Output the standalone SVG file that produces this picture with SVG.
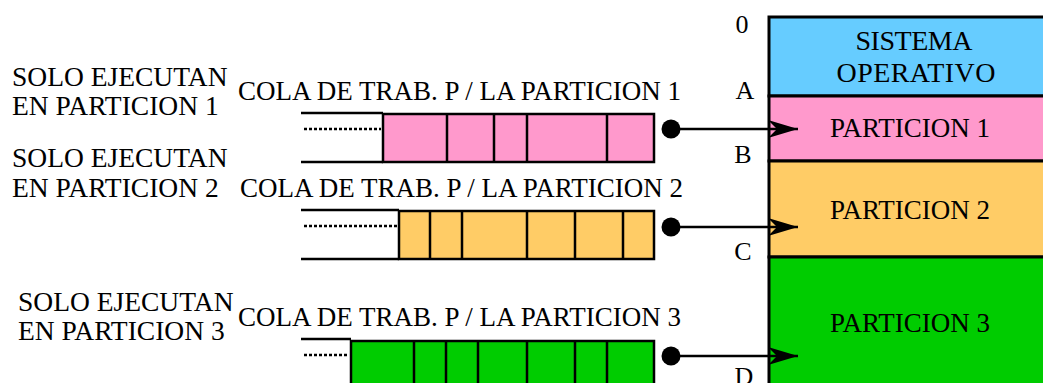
<svg xmlns="http://www.w3.org/2000/svg" width="1043" height="383" viewBox="0 0 1043 383">
<style>
  text { font-family: "Liberation Serif", "Times New Roman", serif; fill: #000; }
  .t { font-size: 27px; }
  .side { font-size: 27.5px; }
  .so { font-size: 28px; }
  .lbl { font-size: 26px; text-anchor: middle; }
  .mid { text-anchor: middle; }
  .blk { stroke: #000; stroke-width: 3; }
  .qr { stroke: #000; stroke-width: 2.5; }
  .ln { stroke: #000; stroke-width: 2.5; fill: none; }
  .dot { stroke: #000; stroke-width: 2.5; stroke-dasharray: 3 2; fill: none; }
  .conn { stroke: #000; stroke-width: 2.5; fill: none; }
</style>
<defs>
  <marker id="dotStart" markerUnits="userSpaceOnUse" markerWidth="20" markerHeight="20" refX="10" refY="10" orient="auto">
    <circle cx="10" cy="10" r="9.5" fill="#000"/>
  </marker>
  <marker id="arrowEnd" markerUnits="userSpaceOnUse" markerWidth="32" markerHeight="20" refX="30" refY="9" orient="auto">
    <path d="M0,0 L30,9 L0,18 L9,9 Z" fill="#000"/>
  </marker>
</defs>
<rect width="1043" height="383" fill="#fff"/>

<g id="memoria">
  <g id="so">
    <rect class="blk" x="769" y="17" width="290" height="79" fill="#66CCFF"/>
    <text class="so mid" x="914" y="50" textLength="117">SISTEMA</text>
    <text class="so mid" x="916" y="82" textLength="159">OPERATIVO</text>
  </g>
  <g id="particion1">
    <rect class="blk" x="769" y="96" width="290" height="65" fill="#FF99CC"/>
    <text class="t mid" x="910" y="137">PARTICION 1</text>
  </g>
  <g id="particion2">
    <rect class="blk" x="769" y="161" width="290" height="96" fill="#FFCC66"/>
    <text class="t mid" x="910" y="219">PARTICION 2</text>
  </g>
  <g id="particion3">
    <rect class="blk" x="769" y="257" width="290" height="140" fill="#00CC00"/>
    <text class="t mid" x="910" y="332">PARTICION 3</text>
  </g>
  <g id="direcciones">
    <text class="lbl" x="742" y="33">0</text>
    <text class="lbl" x="745" y="99">A</text>
    <text class="lbl" x="743" y="163">B</text>
    <text class="lbl" x="743" y="260">C</text>
    <text class="lbl" x="744" y="385">D</text>
  </g>
</g>

<g id="cola1">
  <text class="side" x="12" y="86">SOLO EJECUTAN</text>
  <text class="side" x="12" y="115">EN PARTICION 1</text>
  <text class="t" x="238" y="100">COLA DE TRAB. P / LA PARTICION 1</text>
  <path class="ln" d="M301,113 H383 M301,162 H383"/>
  <path class="dot" d="M304,129 H381"/>
  <rect class="qr" x="383" y="114" width="271" height="48" fill="#FF99CC"/>
  <path class="ln" d="M447,114 V162 M494,114 V162 M527,114 V162 M607,114 V162"/>
</g>

<g id="cola2">
  <text class="side" x="12" y="167">SOLO EJECUTAN</text>
  <text class="side" x="12" y="197">EN PARTICION 2</text>
  <text class="t" x="240" y="197">COLA DE TRAB. P / LA PARTICION 2</text>
  <path class="ln" d="M301,210 H399 M301,259 H399"/>
  <path class="dot" d="M304,226 H397"/>
  <rect class="qr" x="399" y="211" width="255" height="48" fill="#FFCC66"/>
  <path class="ln" d="M430,211 V259 M462,211 V259 M527,211 V259 M575,211 V259 M623,211 V259"/>
</g>

<g id="cola3">
  <text class="side" x="18" y="311">SOLO EJECUTAN</text>
  <text class="side" x="18" y="340">EN PARTICION 3</text>
  <text class="t" x="238" y="326">COLA DE TRAB. P / LA PARTICION 3</text>
  <path class="ln" d="M301,339 H351"/>
  <path class="dot" d="M304,355 H349"/>
  <rect class="qr" x="351" y="341" width="303" height="60" fill="#00CC00"/>
  <path class="ln" d="M414,341 V401 M446,341 V401 M478,341 V401 M527,341 V401 M575,341 V401 M607,341 V401"/>
</g>

<g id="conectores">
  <line class="conn" x1="671" y1="129" x2="798" y2="129" marker-start="url(#dotStart)" marker-end="url(#arrowEnd)"/>
  <line class="conn" x1="671" y1="227" x2="798" y2="227" marker-start="url(#dotStart)" marker-end="url(#arrowEnd)"/>
  <line class="conn" x1="671" y1="356" x2="798" y2="356" marker-start="url(#dotStart)" marker-end="url(#arrowEnd)"/>
</g>
</svg>
